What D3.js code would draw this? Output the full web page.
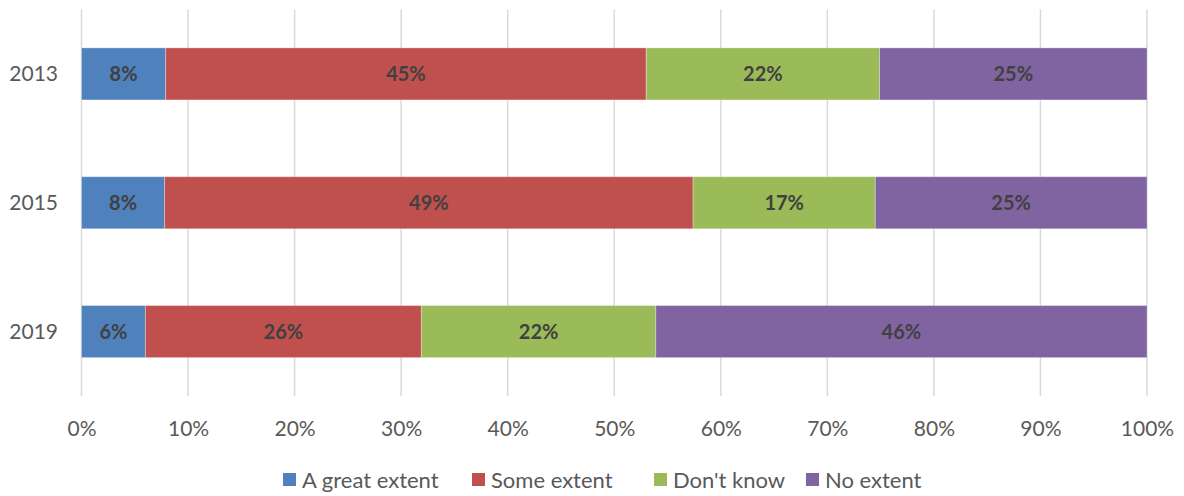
<!DOCTYPE html>
<html>
<head>
<meta charset="utf-8">
<script src="https://cdn.jsdelivr.net/npm/d3@7/dist/d3.min.js"></script>
<style>
  html, body { margin: 0; padding: 0; background: #fff; }
  svg { display: block; }
  text { font-family: Lato, "Open Sans", "Liberation Sans", sans-serif; }
</style>
</head>
<body>
<svg id="chart" width="1184" height="496"></svg>
<script>
// Data
const years = ["2013", "2015", "2019"];
const seriesNames = ["A great extent", "Some extent", "Don't know", "No extent"];
const seriesColors = ["#4f81bd", "#c0504d", "#9bbb59", "#8064a2"];
const greatExtent = [7.9, 7.8, 6.0];
const someExtent = [45.1, 49.6, 25.9];
const dontKnow = [21.9, 17.1, 22.0];
const noExtent = [25.1, 25.5, 46.1];
const greatLabels = ["8%", "8%", "6%"];
const someLabels = ["45%", "49%", "26%"];
const dontKnowLabels = ["22%", "17%", "22%"];
const noLabels = ["25%", "25%", "46%"];
const xTicks = [0, 10, 20, 30, 40, 50, 60, 70, 80, 90, 100];

const seriesValues = [greatExtent, someExtent, dontKnow, noExtent];
const seriesLabels = [greatLabels, someLabels, dontKnowLabels, noLabels];

const rows = years.map((y, i) => {
  const o = { year: y };
  seriesNames.forEach((s, j) => { o[s] = seriesValues[j][i]; });
  return o;
});

const svg = d3.select("#chart");
const x = d3.scaleLinear().domain([0, 100]).range([81.5, 1147]);
const y = d3.scaleBand().domain(years).range([9.5, 396]).paddingInner(0.596).paddingOuter(0.298);

// Gridlines
svg.append("g").selectAll("line").data(xTicks).join("line")
  .attr("x1", d => x(d)).attr("x2", d => x(d))
  .attr("y1", 9.5).attr("y2", 396)
  .attr("stroke", "#d9d9d9").attr("stroke-width", 1.5);

// Stack (normalized)
const stack = d3.stack().keys(seriesNames).offset(d3.stackOffsetExpand);
const stacked = stack(rows);

const g = svg.append("g");
stacked.forEach((layer, j) => {
  g.append("g").selectAll("rect").data(layer).join("rect")
    .attr("x", d => x(d[0] * 100))
    .attr("width", d => x(d[1] * 100) - x(d[0] * 100))
    .attr("y", d => y(d.data.year))
    .attr("height", y.bandwidth())
    .attr("fill", seriesColors[j])
    .attr("stroke", "rgba(255,255,255,0.3)")
    .attr("stroke-width", 1);
  g.append("g").selectAll("text").data(layer).join("text")
    .attr("x", d => (x(d[0] * 100) + x(d[1] * 100)) / 2)
    .attr("y", d => y(d.data.year) + y.bandwidth() / 2)
    .attr("dy", "0.35em")
    .attr("text-anchor", "middle")
    .attr("font-size", 20)
    .attr("font-weight", "bold")
    .attr("fill", "#404040")
    .text((d, i) => seriesLabels[j][i]);
});

// Y labels
svg.append("g").selectAll("text").data(years).join("text")
  .attr("x", 58).attr("y", d => y(d) + y.bandwidth() / 2)
  .attr("dy", "0.35em").attr("text-anchor", "end")
  .attr("font-size", 21).attr("fill", "#595959")
  .text(d => d);

// X axis labels
const xAxis = d3.axisBottom(x).tickValues(xTicks).tickFormat(d => d + "%").tickSize(0).tickPadding(0);
const ax = svg.append("g").attr("transform", "translate(0,429)").call(xAxis);
ax.select(".domain").remove();
ax.selectAll("text").attr("font-size", 21).attr("fill", "#595959")
  .attr("font-family", 'Lato, "Open Sans", sans-serif').attr("dy", "0.35em").attr("y", 0);

// Legend
const legendX = [283, 472, 654, 806];
const lg = svg.append("g").selectAll("g").data(seriesNames).join("g")
  .attr("transform", (d, i) => `translate(${legendX[i]},480)`);
lg.append("rect").attr("x", 0).attr("y", -7).attr("width", 13).attr("height", 13)
  .attr("fill", (d, i) => seriesColors[i]);
lg.append("text").attr("x", 19).attr("y", 0).attr("dy", "0.35em")
  .attr("font-size", 22).attr("fill", "#595959").text(d => d);
</script>
</body>
</html>
